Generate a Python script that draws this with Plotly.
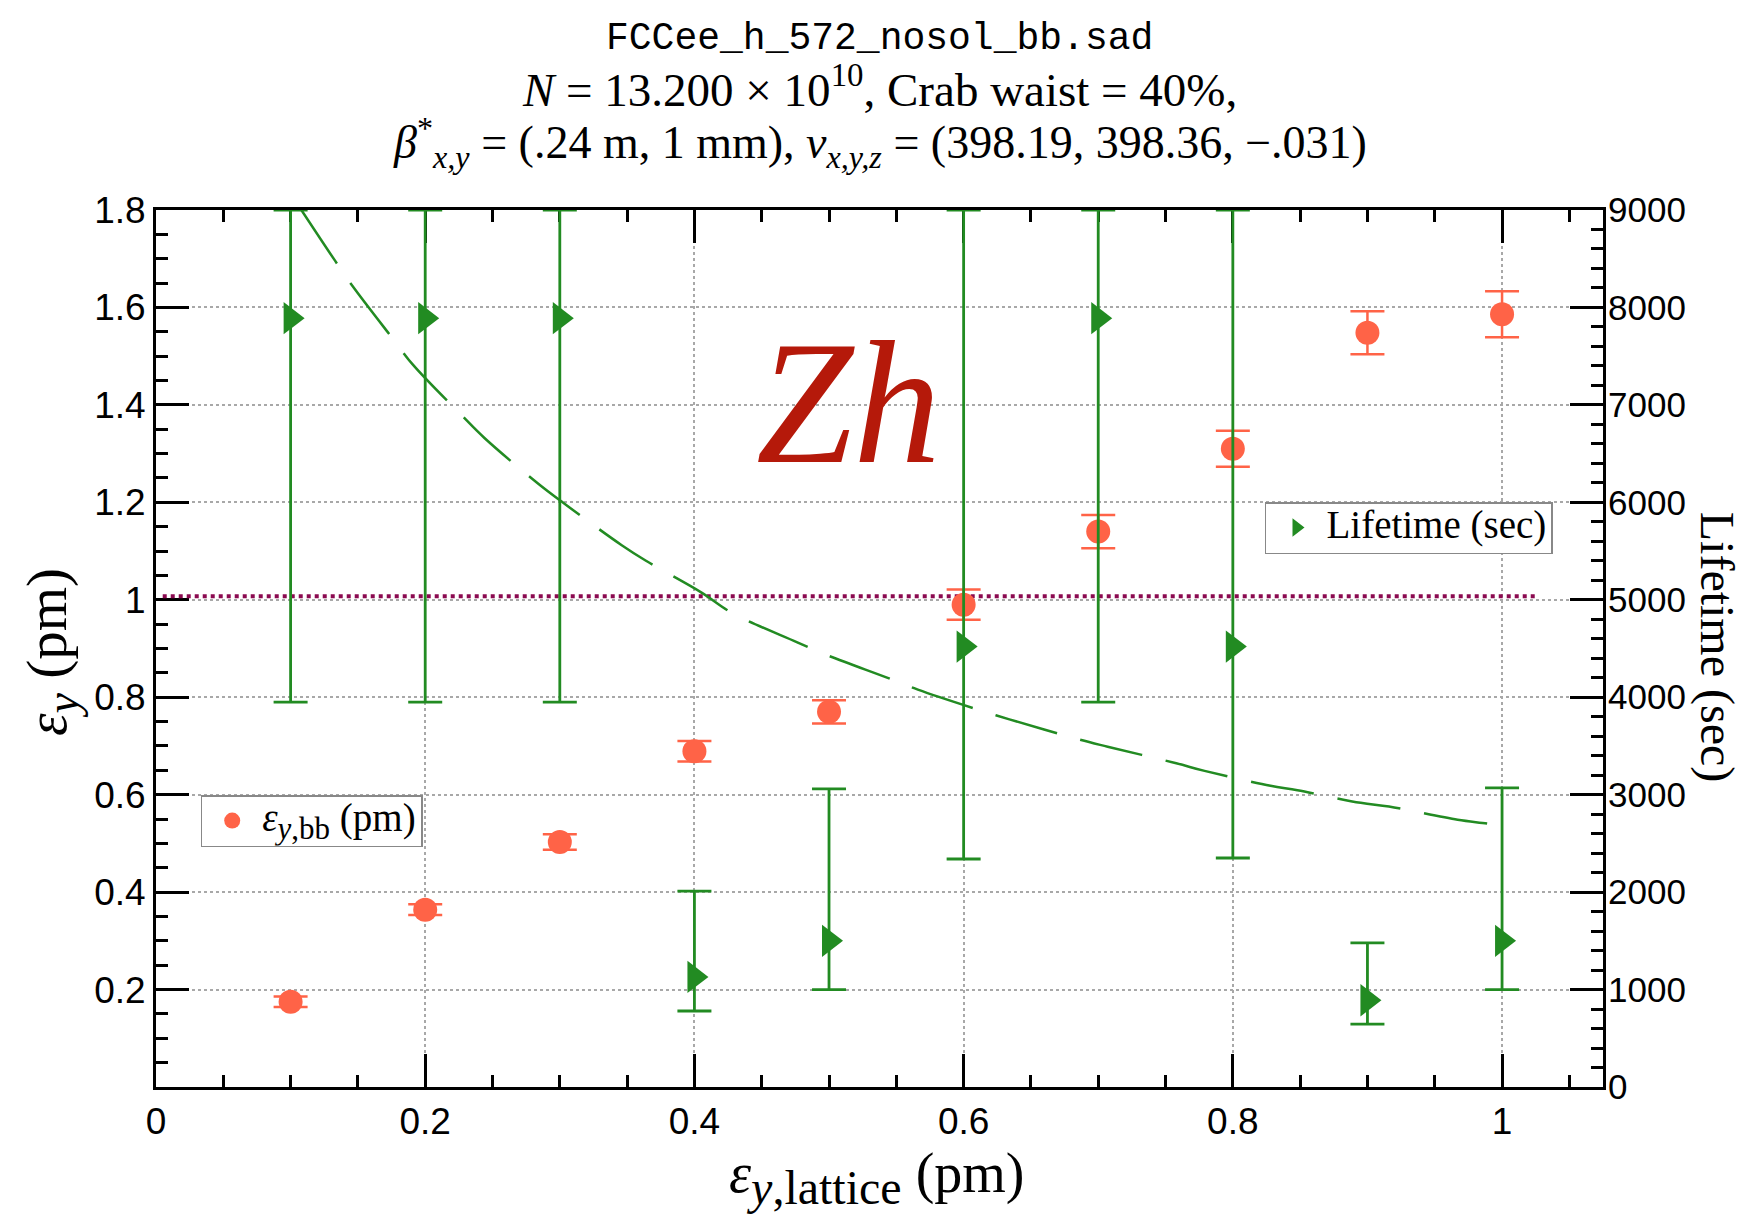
import plotly.graph_objects as go

# ---------------- data ----------------
x_lattice = [0.1, 0.2, 0.3, 0.4, 0.5, 0.6, 0.7, 0.8, 0.9, 1.0]

eps_bb = [0.175, 0.364, 0.503, 0.689, 0.770, 0.990, 1.140, 1.310, 1.548, 1.586]
eps_bb_err = [0.011, 0.011, 0.016, 0.021, 0.024, 0.031, 0.034, 0.037, 0.044, 0.047]

lifetime = [7890, 7890, 7890, 1130, 1500, 4520, 7890, 4520, 890, 1500]
# upper errors of the long bars run past the top of the frame (9000 s)
lifetime_err_plus = [1110, 1110, 1110, 880, 1560, 4480, 1110, 4480, 590, 1570]
lifetime_err_minus = [3940, 3940, 3940, 350, 500, 2180, 3940, 2170, 245, 500]

fit_x = [0.108, 0.133, 0.146, 0.177, 0.191, 0.228, 0.244, 0.284, 0.303, 0.346,
         0.364, 0.405, 0.428, 0.476, 0.495, 0.546, 0.566, 0.614, 0.634, 0.685,
         0.707, 0.758, 0.779, 0.828, 0.848, 0.895, 0.916, 0.967, 0.989, 1.003]
fit_y = [9000, 8480, 8220, 7660, 7410, 6880, 6660, 6190, 5990, 5560,
         5400, 5076, 4864, 4566, 4451, 4186, 4078, 3858, 3773, 3569,
         3492, 3322, 3244, 3091, 3045, 2916, 2878, 2742, 2704, 2672]

target_x = [0.005, 1.027]
target_y = [1.007, 1.007]

x_ticks = [0, 0.2, 0.4, 0.6, 0.8, 1.0]
x_ticktext = ["0", "0.2", "0.4", "0.6", "0.8", "1"]
y_ticks = [0.2, 0.4, 0.6, 0.8, 1.0, 1.2, 1.4, 1.6, 1.8]
y_ticktext = ["0.2", "0.4", "0.6", "0.8", "1", "1.2", "1.4", "1.6", "1.8"]
y2_ticks = [0, 1000, 2000, 3000, 4000, 5000, 6000, 7000, 8000, 9000]
y2_ticktext = ["0", "1000", "2000", "3000", "4000", "5000", "6000", "7000", "8000", "9000"]

# ---------------- styles ----------------
RED = "#ff6347"
GREEN = "#228b22"
MAROON = "#8b0a50"
SERIF = "Liberation Serif"
SANS = "Liberation Sans"
MONO = "Liberation Mono"

fig = go.Figure()

fig.add_trace(go.Scatter(
    x=target_x, y=target_y, mode="lines",
    line=dict(color=MAROON, width=4, dash="dot"),
    showlegend=False, hoverinfo="skip",
))

fig.add_trace(go.Scatter(
    x=fit_x, y=fit_y, mode="lines", yaxis="y2",
    line=dict(color=GREEN, width=2.5, dash="64px,24px", shape="spline"),
    showlegend=False, hoverinfo="skip",
))

fig.add_trace(go.Scatter(
    x=x_lattice, y=eps_bb, mode="markers",
    name="<span style='font-size:39px'><i>ε</i><sub><span style='font-size:31px'><i>y</i>,bb</span></sub> (pm)</span>",
    marker=dict(color=RED, size=24, symbol="circle"),
    error_y=dict(type="data", array=eps_bb_err, color=RED, thickness=2.5, width=17),
    legend="legend",
))

fig.add_trace(go.Scatter(
    x=x_lattice, y=lifetime, mode="markers", yaxis="y2",
    name="<span style='font-size:39px'>Lifetime (sec)</span>",
    marker=dict(color=GREEN, size=28, symbol="triangle-right"),
    error_y=dict(type="data", symmetric=False, array=lifetime_err_plus,
                 arrayminus=lifetime_err_minus, color=GREEN, thickness=2.8, width=17),
    legend="legend2",
))

axis_common = dict(
    showline=True, linecolor="black", linewidth=3,
    ticks="inside", tickcolor="black", tickwidth=2.5, ticklen=33,
    tickfont=dict(family=SANS, size=37, color="black"),
    zeroline=False, layer="below traces",
)

legend_common = dict(
    xanchor="left", yanchor="middle",
    bgcolor="white", bordercolor="#888888", borderwidth=1.5,
    font=dict(family=SERIF, size=27, color="black"),
    itemsizing="trace", itemwidth=50,
)

fig.update_layout(
    width=1748, height=1214, autosize=False,
    margin=dict(l=148, r=153, t=202, b=135),
    paper_bgcolor="white", plot_bgcolor="white",
    xaxis=dict(
        range=[0, 1.075], tickvals=x_ticks, ticktext=x_ticktext,
        mirror="ticks", showgrid=True, gridcolor="#a8a8a8", gridwidth=1.5, griddash="dot",
        minor=dict(dtick=0.05, tick0=0, ticks="inside", ticklen=12, tickwidth=2.5,
                   tickcolor="black", showgrid=False),
        **axis_common,
    ),
    yaxis=dict(
        range=[0, 1.8], tickvals=y_ticks, ticktext=y_ticktext,
        showgrid=True, gridcolor="#a8a8a8", gridwidth=1.5, griddash="dot",
        minor=dict(dtick=0.05, tick0=0, ticks="inside", ticklen=12, tickwidth=2.5,
                   tickcolor="black", showgrid=False),
        **axis_common,
    ),
    yaxis2=dict(
        range=[0, 9000], tickvals=y2_ticks, ticktext=y2_ticktext,
        overlaying="y", side="right", showgrid=False, ticklabelstandoff=-5,
        minor=dict(dtick=200, tick0=0, ticks="inside", ticklen=12, tickwidth=2.5,
                   tickcolor="black", showgrid=False),
        **{**axis_common, "tickfont": dict(family=SANS, size=35, color="black")},
    ),
    legend=dict(x=0.0309, y=0.3033, **legend_common),
    legend2=dict(x=0.7664, y=0.6374, **legend_common),
    showlegend=True,
)

annotations = [
    dict(text="FCCee_h_572_nosol_bb.sad", x=0.5, y=1.196,
         font=dict(family=MONO, size=38, color="black")),
    dict(text="<i>N</i> = 13.200 × 10<sup>10</sup>, Crab waist = 40%,", x=0.5, y=1.1404,
         font=dict(family=SERIF, size=47, color="black")),
    dict(text="<i>β</i><sup>*</sup><sub><i>x,y</i></sub> = (.24 m, 1 mm), <i>ν<sub>x,y,z</sub></i> = (398.19, 398.36, −.031)",
         x=0.5, y=1.0765, font=dict(family=SERIF, size=46, color="black")),
    dict(text="<i>Zh</i>", x=0.4787, y=0.7805,
         font=dict(family=SERIF, size=175, color="#b5190a")),
    dict(text="<i>ε<sub><span style='font-size:46px'>y</span></sub></i> (pm)", x=-0.0722, y=0.4955, textangle=-90,
         font=dict(family=SERIF, size=57, color="black")),
    dict(text="Lifetime (sec)", x=1.0787, y=0.501, textangle=90,
         font=dict(family=SERIF, size=48, color="black")),
    dict(text="<i>ε</i><sub><span style='font-size:48px'><i>y</i>,lattice</span></sub> (pm)", x=0.498, y=-0.104,
         font=dict(family=SERIF, size=56, color="black")),
]
for a in annotations:
    a.update(xref="paper", yref="paper", showarrow=False, xanchor="center", yanchor="middle")
fig.update_layout(annotations=annotations)

fig.write_html("out.html")
